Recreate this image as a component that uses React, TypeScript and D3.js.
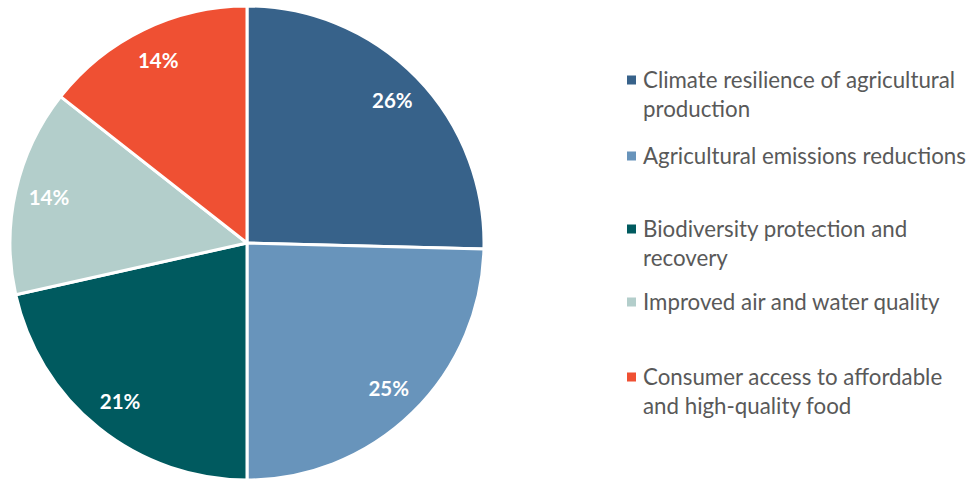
import React from "react";
import * as d3 from "d3";

const categories = [
  "Climate resilience of agricultural production",
  "Agricultural emissions reductions",
  "Biodiversity protection and recovery",
  "Improved air and water quality",
  "Consumer access to affordable and high-quality food",
];
const values = [25.4, 24.6, 21.5, 14.1, 14.4];
const valueLabels = ["26%", "25%", "21%", "14%", "14%"];
const legendLines = [
  ["Climate resilience of agricultural", "production"],
  ["Agricultural emissions reductions"],
  ["Biodiversity protection and", "recovery"],
  ["Improved air and water quality"],
  ["Consumer access to affordable", "and high-quality food"],
];
const colors = ["#37628a", "#6894bb", "#005a5f", "#b3cecb", "#ef5033"];

export default function App() {
  const W = 970, H = 480;
  const cx = 247, cy = 243, r = 237;
  const pie = d3.pie<number>().sort(null).value((d) => d);
  const arcs = pie(values);
  const arc = d3.arc<d3.PieArcDatum<number>>().innerRadius(0).outerRadius(r);
  const labelArc = d3.arc<d3.PieArcDatum<number>>().innerRadius(203).outerRadius(203);
  const legendY = [80, 156, 229, 302, 377];
  const color = d3.scaleOrdinal<string, string>().domain(categories).range(colors);
  return (
    <svg width={W} height={H} style={{ position: "absolute", left: 0, top: 0 }}>
      <g transform={`translate(${cx},${cy})`}>
        {arcs.map((a, i) => (
          <path key={i} d={arc(a) || ""} fill={color(categories[i])} stroke="#fff" strokeWidth={3} strokeLinejoin="round" />
        ))}
        {arcs.map((a, i) => {
          const [x, y] = labelArc.centroid(a);
          return (
            <text key={i} x={x} y={y} dy="0.35em" textAnchor="middle" fill="#fff" fontFamily="Lato, sans-serif" fontWeight="bold" fontSize={20.5}>
              {valueLabels[i]}
            </text>
          );
        })}
      </g>
      {legendLines.map((lines, i) => (
        <g key={i}>
          <rect x={627} y={legendY[i] - 4.5} width={9} height={9} fill={color(categories[i])} />
          {lines.map((t, j) => (
            <text key={j} x={643} y={legendY[i] + j * 29} dy="0.35em" fill="#595959" fontFamily="Lato, sans-serif" fontSize={22.3}>
              {t}
            </text>
          ))}
        </g>
      ))}
    </svg>
  );
}
